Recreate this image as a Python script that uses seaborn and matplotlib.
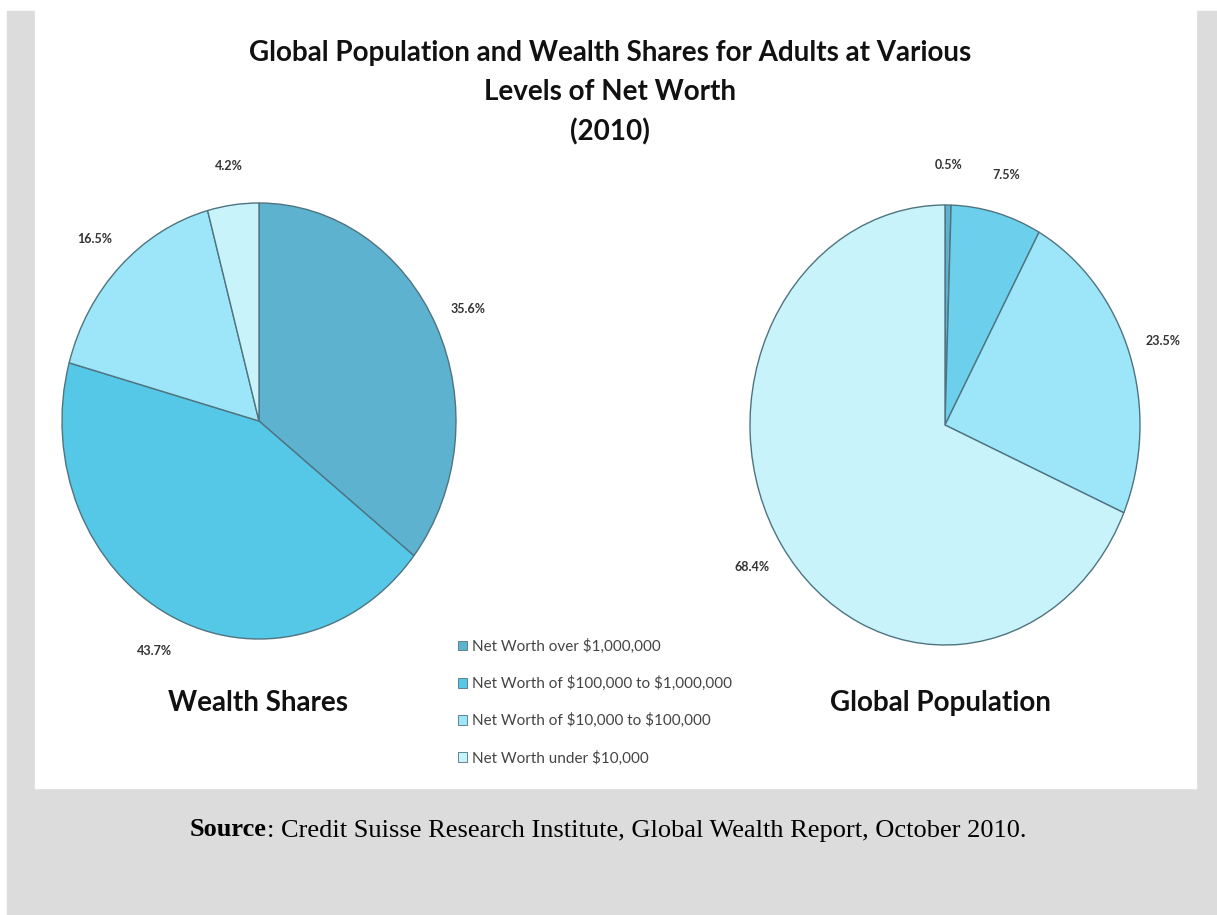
import numpy as np
import matplotlib
matplotlib.use("Agg")
import matplotlib.pyplot as plt
import matplotlib.patches as mpatches
import seaborn as sns

# --- DATA ---
legend_labels = ["Net Worth over \\$1,000,000",
                 "Net Worth of \\$100,000 to \\$1,000,000",
                 "Net Worth of \\$10,000 to \\$100,000",
                 "Net Worth under \\$10,000"]
wealth_shares = [35.6, 43.7, 16.5, 4.2]
population_shares = [0.5, 7.5, 23.5, 68.4]
wealth_labels = ["35.6%", "43.7%", "16.5%", "4.2%"]
population_labels = ["0.5%", "7.5%", "23.5%", "68.4%"]

# --- STYLE ---
sns.set_style("white")
plt.rcParams['font.family'] = ['Lato', 'DejaVu Sans']
slice_colors = ["#5cb2cf", "#55c8e8", "#9de5f8", "#c9f3fb"]
pop_colors = ["#5cb2cf", "#6ccfec", "#9de5f8", "#c9f3fb"]
EDGE = "#4f7480"

W, H = 1217, 915
fig = plt.figure(figsize=(W / 100, H / 100), dpi=100, facecolor="white")

# page background: grey frame with white chart panel
fig.patches.append(mpatches.Rectangle((7 / W, 0), 1 - 7 / W, 1 - 11 / H,
                                      transform=fig.transFigure, color="#dcdcdc", zorder=-2))
fig.patches.append(mpatches.Rectangle((35 / W, 1 - 788 / H), (1196 - 35) / W, 788 / H,
                                      transform=fig.transFigure, color="white", zorder=-1))


def pie_axes(cx, cy, rx, ry):
    return fig.add_axes([(cx - rx) / W, 1 - (cy + ry) / H, 2 * rx / W, 2 * ry / H])


def draw_pie(ax, values, labels, colors):
    wedges, texts = ax.pie(values, labels=labels, colors=colors, startangle=90,
                           counterclock=False, labeldistance=1.18,
                           wedgeprops=dict(edgecolor=EDGE, linewidth=1.0),
                           textprops=dict(fontsize=9, fontweight="bold", color="#333333",
                                          ha="center", va="center"))
    ax.set_aspect("auto")
    ax.set_xlim(-1, 1)
    ax.set_ylim(-1, 1)
    ax.axis("off")
    return wedges


ax1 = pie_axes(259, 421, 197, 218)
w1 = draw_pie(ax1, wealth_shares, wealth_labels, slice_colors)
ax2 = pie_axes(945, 425, 195, 220)
w2 = draw_pie(ax2, population_shares, population_labels, pop_colors)

# titles
fig.text(610 / W, 1 - 93 / H,
         "Global Population and Wealth Shares for Adults at Various\nLevels of Net Worth\n(2010)",
         ha="center", va="center", fontsize=20, fontweight="bold", color="#111111",
         linespacing=1.6)
fig.text(258 / W, 1 - 703 / H, "Wealth Shares", ha="center", va="center",
         fontsize=20, fontweight="bold", color="#111111")
fig.text(940 / W, 1 - 703 / H, "Global Population", ha="center", va="center",
         fontsize=20, fontweight="bold", color="#111111")

# legend
handles = [mpatches.Patch(facecolor=c, edgecolor=EDGE, linewidth=0.6) for c in slice_colors]
fig.legend(handles, legend_labels, loc="upper left", bbox_to_anchor=(444 / W, 1 - 625 / H),
           frameon=False, fontsize=11, labelcolor="#444444", handlelength=0.6, handleheight=0.6,
           handletextpad=0.3, labelspacing=1.45)

# source line
src = fig.text(190 / W, 1 - 830 / H, "Source", ha="left", va="center", fontsize=19,
               fontweight="bold", family="Liberation Serif", color="black")
ax2.annotate(": Credit Suisse Research Institute, Global Wealth Report, October 2010.",
             xy=(1, 0), xycoords=src, ha="left", va="bottom", fontsize=19,
             family="Liberation Serif", color="black", annotation_clip=False)

fig.savefig("out.png", dpi=100, facecolor=fig.get_facecolor())
